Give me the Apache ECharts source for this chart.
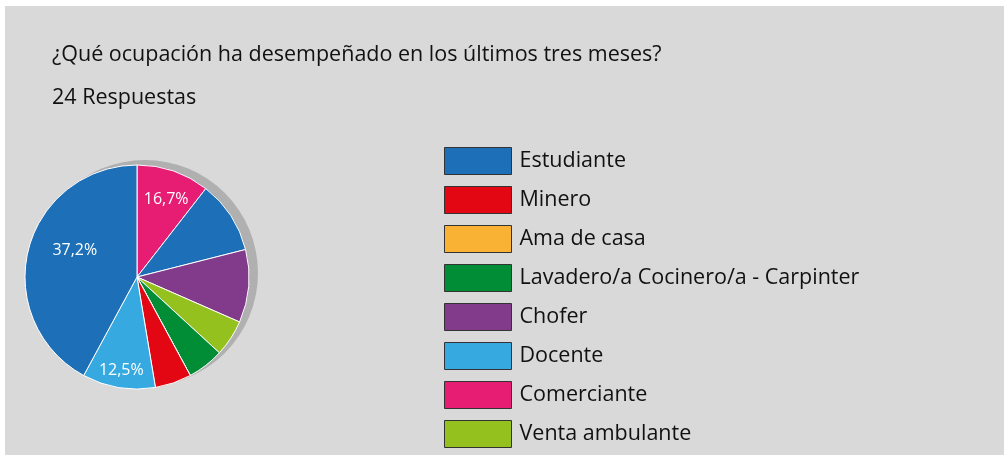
<!DOCTYPE html>
<html lang="es">
<head>
    <meta charset="UTF-8">
    <script src="https://cdn.jsdelivr.net/npm/echarts@6/dist/echarts.min.js"></script>
    <title>Ocupación</title>
    <style>
        html, body { margin: 0; padding: 0; background: #fff; }
        #ocupacion-pie { position: absolute; left: 5px; top: 6px; width: 999px; height: 449px; background: #d9d9d9; }
    </style>
</head>
<body>
    <div id="ocupacion-pie"></div>
</body>
<script type="text/javascript">
    // orden del dibujo en sentido horario desde arriba
    var sliceNames = ["Comerciante", "Estudiante", "Chofer", "Venta ambulante",
        "Lavadero/a Cocinero/a - Carpinter", "Ama de casa", "Minero", "Docente", "Estudiante"];
    var sliceValues = [2, 2, 2, 1, 1, 0, 1, 2, 8];
    var sliceLabels = ["16,7%", "", "", "", "", "", "", "12,5%", "37,2%"];

    // orden de la leyenda
    var legendNames = ["Estudiante", "Minero", "Ama de casa", "Lavadero/a Cocinero/a - Carpinter",
        "Chofer", "Docente", "Comerciante", "Venta ambulante"];
    var colorOf = {
        "Estudiante": "#1d70b7",
        "Minero": "#e30613",
        "Ama de casa": "#f9b233",
        "Lavadero/a Cocinero/a - Carpinter": "#008d36",
        "Chofer": "#823a8b",
        "Docente": "#36a9e1",
        "Comerciante": "#e71d73",
        "Venta ambulante": "#95c11f"
    };
    // ajuste de las etiquetas dentro de las porciones
    var labelShift = {0: [10, -22], 7: [-6, 35], 8: [-5, -12]};

    var pieData = sliceNames.map(function (n, i) {
        return {name: n, value: sliceValues[i], itemStyle: {color: colorOf[n]}};
    });

    var chart = echarts.init(document.getElementById("ocupacion-pie"));
    chart.setOption({
        animation: false,
        textStyle: {fontFamily: "Open Sans"},
        title: [{
            text: "¿Qué ocupación ha desempeñado en los últimos tres meses?",
            left: 47, top: 38, padding: 0,
            textStyle: {fontSize: 21.5, fontWeight: "normal", color: "#111"}
        }, {
            text: "24 Respuestas",
            left: 47, top: 81, padding: 0,
            textStyle: {fontSize: 21.5, fontWeight: "normal", color: "#111"}
        }],
        legend: {
            orient: "vertical",
            left: 439, top: 141,
            height: 400,
            padding: 0,
            data: legendNames,
            icon: "rect",
            itemWidth: 67,
            itemHeight: 27,
            itemGap: 11,
            selectedMode: false,
            itemStyle: {borderColor: "#333", borderWidth: 1},
            textStyle: {fontSize: 21.5, lineHeight: 27, color: "#111", padding: [0, 0, 0, 3]}
        },
        series: [{
            // sombra gris detrás del círculo
            name: "sombra",
            type: "pie",
            silent: true,
            center: [140, 267],
            radius: 113,
            z: 1,
            label: {show: false},
            labelLine: {show: false},
            data: [{name: "_sombra", value: 1, itemStyle: {color: "#b0b0b0"}}]
        }, {
            name: "Ocupación",
            type: "pie",
            center: [132, 271],
            radius: 112,
            startAngle: 90,
            clockwise: true,
            z: 2,
            itemStyle: {borderColor: "#fff", borderWidth: 1},
            label: {
                show: true,
                position: "inside",
                color: "#fff",
                fontSize: 16,
                formatter: function (p) { return sliceLabels[p.dataIndex]; }
            },
            labelLine: {show: false},
            labelLayout: function (p) {
                var s = labelShift[p.dataIndex];
                return s ? {dx: s[0], dy: s[1]} : {};
            },
            emphasis: {disabled: true},
            data: pieData
        }]
    });
</script>
</html>
